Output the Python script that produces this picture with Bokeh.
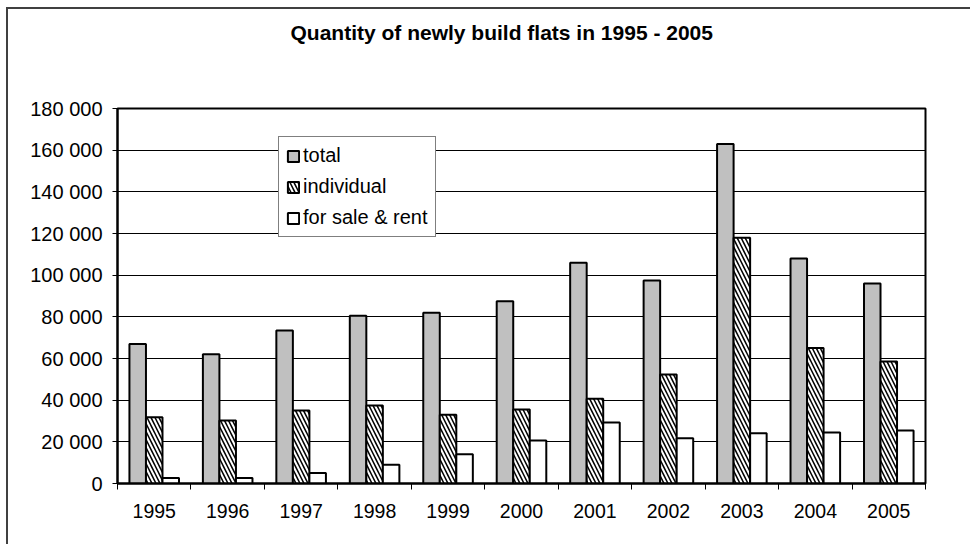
import numpy as np
from bokeh.plotting import figure
from bokeh.models import Range1d, FixedTicker, Title
from bokeh.embed import file_html
from bokeh.resources import INLINE

# Newly built flats per year
years = ["1995", "1996", "1997", "1998", "1999", "2000",
         "2001", "2002", "2003", "2004", "2005"]
total = [67000, 62000, 73500, 80500, 82000, 87500,
         106000, 97500, 163000, 108000, 96000]
individual = [31800, 30200, 35000, 37500, 33000, 35500,
              40700, 52300, 118000, 65000, 58600]
for_sale_rent = [2700, 2600, 5000, 9000, 14000, 20600,
                 29300, 21700, 24100, 24500, 25500]

y_ticks = list(range(0, 180001, 20000))
y_tick_labels = [f"{v:,}".replace(",", " ") for v in y_ticks]

FONT = "Liberation Sans"

centers = np.arange(len(years)) + 0.5
bounds = np.arange(len(years) + 1).tolist()
bar_w = 0.225

p = figure(width=964, height=537, title=None,
           x_range=Range1d(0, len(years)), y_range=Range1d(0, 180000),
           output_backend="svg", toolbar_location=None,
           min_border_left=109, min_border_top=99,
           min_border_right=47, min_border_bottom=63)
p.styles = {"margin-left": "6px", "margin-top": "7px",
            "border-left": "2px solid #404040",
            "border-top": "2px solid #404040"}

# empty spacer panel between the plot area and the heading
p.add_layout(Title(text=" ", text_font_size="1px", standoff=62), "above")
p.add_layout(Title(text="Quantity of newly build flats in 1995 - 2005",
                   align="left", offset=173, standoff=0,
                   text_font=FONT, text_font_size="21px",
                   text_font_style="bold", text_color="black"), "above")

p.background_fill_color = "white"
p.border_fill_color = "white"
p.outline_line_color = "black"
p.outline_line_width = 2

common = dict(width=bar_w, line_color="black", line_width=2)
p.vbar(x=centers - bar_w, top=total, fill_color="#c0c0c0",
       legend_label="total", **common)
p.vbar(x=centers, top=individual, fill_color="white",
       hatch_pattern="\\", hatch_color="black", hatch_scale=8,
       hatch_weight=1.5, legend_label="individual", **common)
p.vbar(x=centers + bar_w, top=for_sale_rent, fill_color="white",
       legend_label="for sale & rent", **common)

# y axis
ya = p.yaxis[0]
ya.ticker = FixedTicker(ticks=y_ticks, minor_ticks=[])
ya.major_label_overrides = dict(zip(y_ticks, y_tick_labels))
ya.axis_line_color = "black"
ya.axis_line_width = 2
ya.major_tick_out = 5
ya.major_tick_in = 0
ya.major_tick_line_color = "black"
ya.major_label_standoff = 10
ya.major_label_text_font = FONT
ya.major_label_text_font_size = "20px"
ya.major_label_text_color = "black"

# x axis: labels at category centres, ticks on category boundaries
xa = p.xaxis[0]
xa.ticker = FixedTicker(ticks=centers.tolist(), minor_ticks=bounds)
xa.major_label_overrides = {float(c): y for c, y in zip(centers, years)}
xa.axis_line_color = "black"
xa.axis_line_width = 2
xa.major_tick_line_color = None
xa.minor_tick_out = 6
xa.minor_tick_in = 0
xa.minor_tick_line_color = "black"
xa.major_label_standoff = 14
xa.major_label_text_font = FONT
xa.major_label_text_font_size = "19.5px"
xa.major_label_text_color = "black"

p.xgrid.visible = False
p.ygrid.grid_line_color = "black"
p.ygrid.grid_line_width = 1

leg = p.legend[0]
leg.location = (161, 246)
leg.border_line_color = "black"
leg.border_line_width = 1.5
leg.background_fill_alpha = 1
leg.padding = 7
leg.spacing = 8
leg.margin = 0
leg.glyph_width = 14
leg.glyph_height = 14
leg.label_standoff = 3
leg.label_width = 125
leg.label_height = 20
leg.label_text_font = FONT
leg.label_text_font_size = "20px"
leg.label_text_color = "black"

open("out.html", "w").write(file_html(p, INLINE))
